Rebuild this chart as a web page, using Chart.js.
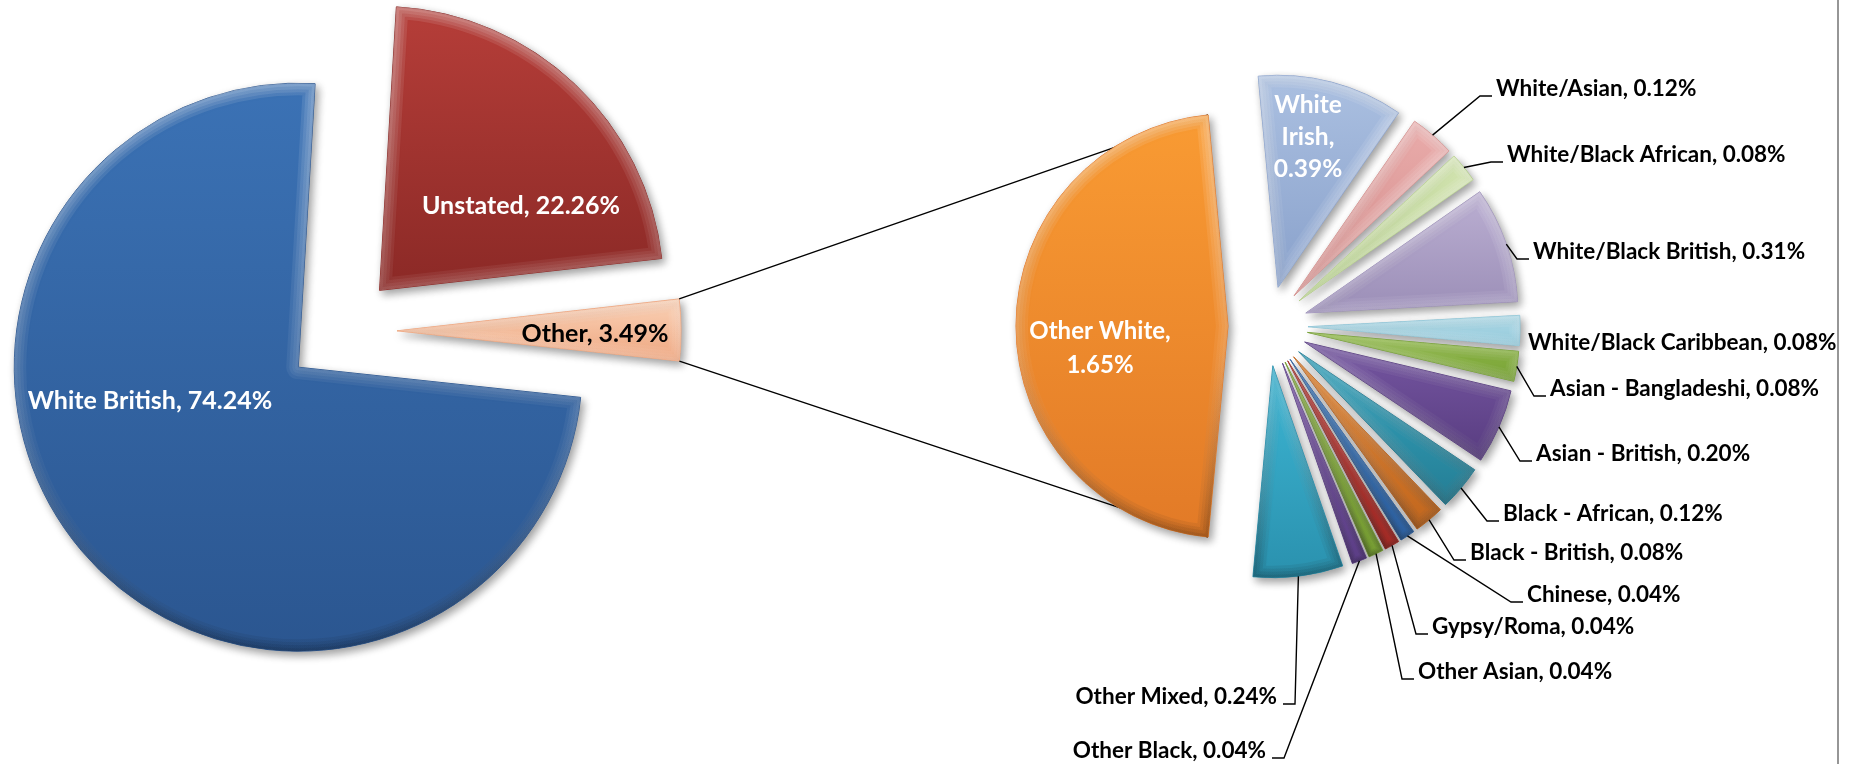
<!DOCTYPE html>
<html>
<head>
<meta charset="utf-8">
<script src="https://cdn.jsdelivr.net/npm/chart.js@4.4.0/dist/chart.umd.min.js"></script>
<style>
  html, body { margin: 0; padding: 0; background: #fff; }
  #wrap { position: relative; width: 1856px; height: 764px; overflow: hidden; }
  #wrap canvas { position: absolute; left: 0; top: 0; }
  #edge { position: absolute; left: 1837px; top: 0; width: 2px; height: 764px; background: #969696; }
</style>
</head>
<body>
<div id="wrap">
  <canvas id="mainPie" width="1856" height="764"></canvas>
  <canvas id="subPie" width="1856" height="764"></canvas>
  <div id="edge"></div>
</div>
<script>
// main pie
const mainLabels = ['Unstated', 'Other', 'White British'];
const mainValues = [22.26, 3.49, 74.24];

// breakdown of "Other" (second pie)
const subLabels = ['White Irish', 'White/Asian', 'White/Black African', 'White/Black British',
  'White/Black Caribbean', 'Asian - Bangladeshi', 'Asian - British', 'Black - African',
  'Black - British', 'Chinese', 'Gypsy/Roma', 'Other Asian', 'Other Black', 'Other Mixed', 'Other White'];
const subValues = [0.39, 0.12, 0.08, 0.31, 0.08, 0.08, 0.20, 0.12, 0.08, 0.04, 0.04, 0.04, 0.04, 0.24, 1.65];

// colours (top / bottom of each slice gradient)
const mainTop = ['#b63e39', '#fbd3b8', '#3b72b5'];
const mainBottom = ['#8b2926', '#eda57e', '#2b5690'];
const subTop = ['#abc0e1', '#eaacab', '#d4e5b3', '#bbafd2', '#b3deeb', '#97c04e', '#7657a2', '#35a5bf',
  '#e6852f', '#4180c6', '#c8403a', '#98c148', '#7d5aaa', '#3db6d4', '#f99b33'];
const subBottom = ['#89a1cb', '#d28c8a', '#b3cd88', '#9b8eb7', '#8ec4d6', '#749e33', '#583c80', '#247d94',
  '#c0661e', '#2d60a0', '#a32b26', '#779e34', '#5d3f88', '#2a91ae', '#e27a27'];

// label placement (layout only)
const mainLabelPos = [
  { x: 521, y: 206, color: '#fff' },
  { x: 595, y: 334, color: '#000' },
  { x: 150, y: 401, color: '#fff' }
];
const subLabelPos = [
  { x: 1308, y: 137, mode: 'words' },
  { x: 1496, y: 89, mode: 'right' },
  { x: 1507, y: 155, mode: 'right' },
  { x: 1533, y: 252, mode: 'right' },
  { x: 1528, y: 343, mode: 'plain' },
  { x: 1550, y: 389, mode: 'right' },
  { x: 1536, y: 454, mode: 'right' },
  { x: 1503, y: 514, mode: 'right' },
  { x: 1470, y: 553, mode: 'right' },
  { x: 1527, y: 595, mode: 'right' },
  { x: 1432, y: 627, mode: 'right' },
  { x: 1418, y: 672, mode: 'right' },
  { x: 1266, y: 751, mode: 'left' },
  { x: 1277, y: 697, mode: 'left' },
  { x: 1100, y: 348, mode: 'two' }
];

const FONT = '"Lato", "Open Sans", sans-serif';
const MAIN_SIZE = 25;
const SUB_SIZE = 22.5;
const INSIDE_SIZE = 24.5;

function pct(v) { return v.toFixed(2) + '%'; }

function slicePath(ctx, arc) {
  ctx.beginPath();
  ctx.moveTo(arc.x, arc.y);
  ctx.arc(arc.x, arc.y, arc.outerRadius, arc.startAngle, arc.endAngle);
  ctx.closePath();
}

// pulls every slice out along its bisector, then gives it a vertical gradient
const explodePlugin = {
  id: 'explode',
  afterDatasetUpdate(chart, args, opts) {
    const d = opts.distance || 0;
    args.meta.data.forEach((arc, i) => {
      const mid = (arc.startAngle + arc.endAngle) / 2;
      arc.x += Math.cos(mid) * d;
      arc.y += Math.sin(mid) * d;
      let minY = arc.y, maxY = arc.y;
      for (let k = 0; k <= 60; k++) {
        const a = arc.startAngle + (arc.endAngle - arc.startAngle) * k / 60;
        const yy = arc.y + Math.sin(a) * arc.outerRadius;
        minY = Math.min(minY, yy);
        maxY = Math.max(maxY, yy);
      }
      const g = chart.ctx.createLinearGradient(0, minY, 0, maxY);
      g.addColorStop(0, opts.top[i]);
      g.addColorStop(1, opts.bottom[i]);
      if (arc.options) arc.options.backgroundColor = g;
    });
  },
  beforeDatasetDraw(chart) {
    const ctx = chart.ctx;
    ctx.save();
    ctx.shadowColor = 'rgba(0,0,0,0.38)';
    ctx.shadowBlur = 9;
    ctx.shadowOffsetX = 3;
    ctx.shadowOffsetY = 4;
  },
  afterDatasetDraw(chart, args) {
    const ctx = chart.ctx;
    ctx.restore();
    // soft bevel: light rim fading inwards, darker lower rim
    args.meta.data.forEach(arc => {
      const w = Math.min(12, arc.outerRadius * (arc.endAngle - arc.startAngle) * 0.35);
      ctx.save();
      slicePath(ctx, arc);
      ctx.clip();
      ctx.lineJoin = 'round';
      const top = arc.y - arc.outerRadius, bot = arc.y + arc.outerRadius;
      const lit = ctx.createLinearGradient(0, top, 0, bot);
      lit.addColorStop(0, 'rgba(255,255,255,0.10)');
      lit.addColorStop(0.55, 'rgba(255,255,255,0.05)');
      lit.addColorStop(1, 'rgba(0,0,0,0.07)');
      ctx.strokeStyle = lit;
      for (let s = 4; s >= 1; s--) {
        ctx.lineWidth = w * s / 2;
        ctx.stroke();
      }
      ctx.restore();
    });
  }
};

function label(ctx, text, x, y, align, color, size) {
  ctx.font = 'bold ' + size + 'px ' + FONT;
  ctx.fillStyle = color;
  ctx.textAlign = align;
  ctx.textBaseline = 'middle';
  ctx.fillText(text, x, y);
}

const mainLabelPlugin = {
  id: 'mainLabels',
  afterDraw(chart) {
    const ctx = chart.ctx;
    ctx.save();
    mainLabels.forEach((name, i) => {
      const p = mainLabelPos[i];
      label(ctx, name + ', ' + pct(mainValues[i]), p.x, p.y, 'center', p.color, MAIN_SIZE);
    });
    ctx.restore();
  }
};

const mainChart = new Chart(document.getElementById('mainPie'), {
  type: 'pie',
  data: {
    labels: mainLabels,
    datasets: [{
      data: mainValues,
      backgroundColor: mainTop,
      borderColor: mainBottom,
      borderWidth: 1,
      clip: false
    }]
  },
  options: {
    responsive: false,
    animation: false,
    rotation: 3.4,
    radius: 284,
    layout: { padding: { left: 0, top: 0, right: 1856 - 682, bottom: 764 - 662 } },
    events: [],
    plugins: {
      legend: { display: false },
      tooltip: { enabled: false },
      explode: { distance: 56, top: mainTop, bottom: mainBottom }
    }
  },
  plugins: [explodePlugin, mainLabelPlugin]
});

// lines from the "Other" slice to the second pie
const connectorPlugin = {
  id: 'connector',
  beforeDatasetsDraw(chart) {
    const ctx = chart.ctx;
    const other = mainChart.getDatasetMeta(0).data[1];
    const ow = chart.getDatasetMeta(0).data[subValues.length - 1];
    const pt = (arc, a) => [arc.x + Math.cos(a) * arc.outerRadius, arc.y + Math.sin(a) * arc.outerRadius];
    const a1 = pt(other, other.startAngle), a2 = pt(other, other.endAngle);
    const b1 = pt(ow, ow.endAngle), b2 = pt(ow, ow.startAngle);
    ctx.save();
    ctx.strokeStyle = '#000';
    ctx.lineWidth = 1.4;
    ctx.beginPath();
    ctx.moveTo(a1[0], a1[1]); ctx.lineTo(b1[0], b1[1]);
    ctx.moveTo(a2[0], a2[1]); ctx.lineTo(b2[0], b2[1]);
    ctx.stroke();
    ctx.restore();
  }
};

const subLabelPlugin = {
  id: 'subLabels',
  afterDraw(chart) {
    const ctx = chart.ctx;
    const arcs = chart.getDatasetMeta(0).data;
    ctx.save();
    subLabels.forEach((name, i) => {
      const p = subLabelPos[i];
      const arc = arcs[i];
      const text = name + ', ' + pct(subValues[i]);
      if (p.mode === 'words') {
        const words = name.split(' ');
        words[words.length - 1] += ',';
        const lines = words.concat([pct(subValues[i])]);
        const lh = 32;
        lines.forEach((ln, k) => label(ctx, ln, p.x, p.y + (k - (lines.length - 1) / 2) * lh, 'center', '#fff', INSIDE_SIZE));
        return;
      }
      if (p.mode === 'two') {
        label(ctx, name + ',', p.x, p.y - 17, 'center', '#fff', INSIDE_SIZE - 0.5);
        label(ctx, pct(subValues[i]), p.x, p.y + 17, 'center', '#fff', INSIDE_SIZE - 0.5);
        return;
      }
      const mid = (arc.startAngle + arc.endAngle) / 2;
      const sx = arc.x + Math.cos(mid) * arc.outerRadius;
      const sy = arc.y + Math.sin(mid) * arc.outerRadius;
      ctx.strokeStyle = '#000';
      ctx.lineWidth = 1.4;
      if (p.mode === 'right') {
        ctx.beginPath();
        ctx.moveTo(sx, sy);
        ctx.lineTo(p.x - 16, p.y + 7);
        ctx.lineTo(p.x - 4, p.y + 7);
        ctx.stroke();
        label(ctx, text, p.x, p.y, 'left', '#000', SUB_SIZE);
      } else if (p.mode === 'left') {
        ctx.beginPath();
        ctx.moveTo(sx, sy);
        ctx.lineTo(p.x + 18, p.y + 7);
        ctx.lineTo(p.x + 6, p.y + 7);
        ctx.stroke();
        label(ctx, text, p.x, p.y, 'right', '#000', SUB_SIZE);
      } else {
        label(ctx, text, p.x, p.y, 'left', '#000', SUB_SIZE);
      }
    });
    ctx.restore();
  }
};

// rotate so that "Other White" faces straight left
const subTotal = subValues.reduce((a, b) => a + b, 0);
const owValue = subValues[subValues.length - 1];
const subRotation = 270 - (subTotal - owValue / 2) / subTotal * 360;

const subChart = new Chart(document.getElementById('subPie'), {
  type: 'pie',
  data: {
    labels: subLabels,
    datasets: [{
      data: subValues,
      backgroundColor: subTop,
      borderColor: subBottom,
      borderWidth: 1,
      clip: false
    }]
  },
  options: {
    responsive: false,
    animation: false,
    rotation: subRotation,
    radius: 212,
    layout: { padding: { left: 968, top: 26, right: 288, bottom: 138 } },
    events: [],
    plugins: {
      legend: { display: false },
      tooltip: { enabled: false },
      explode: { distance: 40, top: subTop, bottom: subBottom }
    }
  },
  plugins: [connectorPlugin, explodePlugin, subLabelPlugin]
});
</script>
</body>
</html>
